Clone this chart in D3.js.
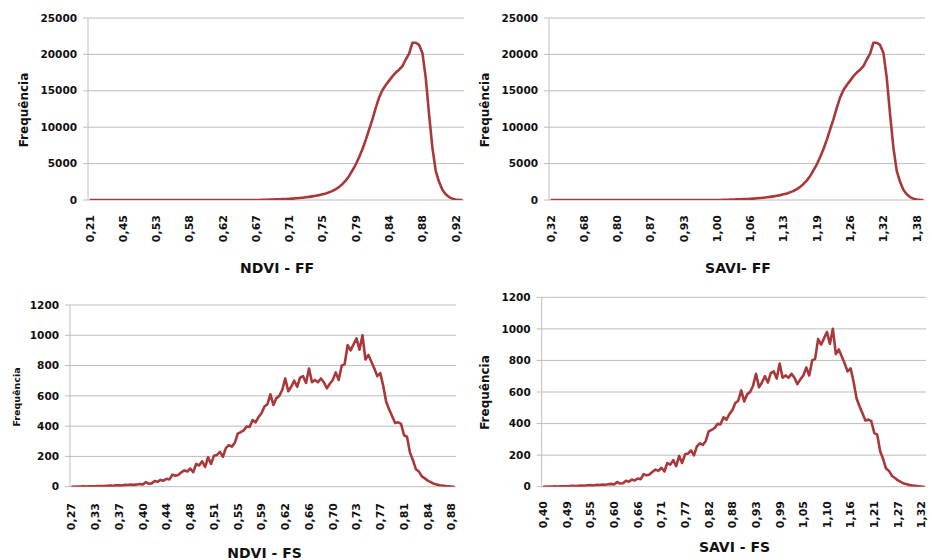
<!DOCTYPE html>
<html>
<head>
<meta charset="utf-8">
<script src="https://cdn.jsdelivr.net/npm/d3@7"></script>
<style>
  body { margin: 0; background: #fff; }
  svg { display: block; }
  text { font-family: "DejaVu Sans", sans-serif; font-weight: bold; fill: #111; }
</style>
</head>
<body>
<div id="chart"></div>
<script>
// frequency per class
var ndviFF = [0,0,0,0,0,0,0,0,0,0, 0,0,0,0,0,0,0,0,0,0, 0,0,0,0,0,0,0,0,0,0,
  0,0,0,0,0,0,0,0,0,0, 0,0,0,0,0,0,0,0,0,0, 0,0,
  30,40,50,60,80,100,120,140,160,190, 230,270,320,370,430,500,580,670,780,900,
  1050,1250,1500,1800,2200,2700,3300,4100,4900,5900, 7000,8300,9700,11100,12700,14100,15100,15800,16400,17000,
  17500,17900,18400,19300,20100,21600,21600,21300,20200,16800, 11800,7200,4000,2500,1400,800,400,180,70,20, 0];
var saviFF = [0,0,0,0,0,0,0,0,0,0, 0,0,0,0,0,0,0,0,0,0, 0,0,0,0,0,0,0,0,0,0,
  0,0,0,0,0,0,0,0,0,0, 0,0,0,0,0,0,0,0,0,0, 0,0,
  30,40,50,60,80,100,120,140,160,190, 230,270,320,370,430,500,580,670,780,900,
  1050,1250,1500,1800,2200,2700,3300,4100,4900,5900, 7000,8300,9700,11100,12700,14100,15100,15800,16400,17000,
  17500,17900,18400,19300,20100,21600,21600,21300,20200,16800, 11800,7200,4000,2500,1400,800,400,180,70,20, 0];
var ndviFS = [1,0,1,1,2,1,2,3,3,4, 5,4,6,7,6,9,10,8,12,11, 14,12,15,18,14,30,20,22,38,32,
  45,40,52,48,80,72,78,95,108,100, 120,96,150,140,168,130,195,150,205,210,
  230,198,255,275,265,290,350,360,372,398, 395,440,425,460,485,530,545,610,540,585,
  600,640,715,630,660,700,660,720,730,685, 780,690,705,690,715,690,650,680,705,755,
  705,800,810,935,900,940,980,905,1000,840, 870,825,780,730,750,665,560,510,465,420,
  425,415,340,330,225,175,115,100,68,55, 40,30,20,15,10,8,5,3,1,0];
var saviFS = [1,0,1,1,2,1,2,3,3,4, 5,4,6,7,6,9,10,8,12,11, 14,12,15,18,14,30,20,22,38,32,
  45,40,52,48,80,72,78,95,108,100, 120,96,150,140,168,130,195,150,205,210,
  230,198,255,275,265,290,350,360,372,398, 395,440,425,460,485,530,545,610,540,585,
  600,640,715,630,660,700,660,720,730,685, 780,690,705,690,715,690,650,680,705,755,
  705,800,810,935,900,940,980,905,1000,840, 870,825,780,730,750,665,560,510,465,420,
  425,415,340,330,225,175,115,100,68,55, 40,30,20,15,10,8,5,3,1,0];

// category labels (shown every n classes)
var ndviFFLabels = ["0,21","0,45","0,53","0,58","0,62","0,67","0,71","0,75","0,79","0,84","0,88","0,92"];
var saviFFLabels = ["0,32","0,68","0,80","0,87","0,93","1,00","1,06","1,13","1,19","1,26","1,32","1,38"];
var ndviFSLabels = ["0,27","0,33","0,37","0,40","0,44","0,48","0,51","0,55","0,59","0,62","0,66","0,70","0,73","0,77","0,81","0,84","0,88"];
var saviFSLabels = ["0,40","0,49","0,55","0,60","0,66","0,71","0,77","0,82","0,88","0,93","0,99","1,05","1,10","1,16","1,21","1,27","1,32"];

var ffTicks = [0,5000,10000,15000,20000,25000];
var fsTicks = [0,200,400,600,800,1000,1200];

var lineColor = "#a8383a";
var gridColor = "#bdbdbd";

var svg = d3.select("#chart").append("svg")
    .attr("width", 932)
    .attr("height", 560);

// layout of the four panels
var panels = [
  {id: "a", data: ndviFF, labels: ndviFFLabels, every: 10, yTicks: ffTicks, title: "NDVI - FF",
   x0: 88, x1: 464, top: 18, bottom: 200, yt: {x: 28, y: 110, size: 12}, xt: {x: 277, y: 273}, labelY: 215},
  {id: "b", data: saviFF, labels: saviFFLabels, every: 10, yTicks: ffTicks, title: "SAVI- FF",
   x0: 549, x1: 925, top: 18, bottom: 200, yt: {x: 489, y: 110, size: 12}, xt: {x: 738, y: 273}, labelY: 215},
  {id: "c", data: ndviFS, labels: ndviFSLabels, every: 8, yTicks: fsTicks, title: "NDVI - FS",
   x0: 70, x1: 456, top: 305, bottom: 486.7, yt: {x: 20, y: 397, size: 9.5}, xt: {x: 264.5, y: 558}, labelY: 503},
  {id: "d", data: saviFS, labels: saviFSLabels, every: 8, yTicks: fsTicks, title: "SAVI - FS",
   x0: 541.7, x1: 926, top: 297.3, bottom: 486.7, yt: {x: 489, y: 392.5, size: 12}, xt: {x: 734.5, y: 551.7}, labelY: 501}
];

panels.forEach(function(p) {
  var x = d3.scaleBand().domain(d3.range(p.data.length)).range([p.x0, p.x1]);
  var y = d3.scaleLinear().domain([0, d3.max(p.yTicks)]).range([p.bottom, p.top]);
  var cx = function(i) { return x(i) + x.bandwidth() / 2; };

  var g = svg.append("g");

  // gridlines with short outside ticks
  g.selectAll(".grid")
    .data(p.yTicks)
    .enter().append("line")
    .attr("x1", p.x0 - 5).attr("x2", p.x1)
    .attr("y1", function(d) { return y(d); })
    .attr("y2", function(d) { return y(d); })
    .attr("stroke", gridColor)
    .attr("stroke-width", 1);

  // y axis line
  g.append("line")
    .attr("x1", p.x0).attr("x2", p.x0)
    .attr("y1", p.top).attr("y2", p.bottom)
    .attr("stroke", gridColor);

  // y labels
  g.selectAll(".ylab")
    .data(p.yTicks)
    .enter().append("text")
    .attr("x", p.x0 - 11)
    .attr("y", function(d) { return y(d); })
    .attr("dy", "0.35em")
    .attr("text-anchor", "end")
    .style("font-size", "10.5px")
    .text(function(d) { return d; });

  // x labels, rotated
  var idx = p.labels.map(function(l, i) { return i * p.every; });
  g.selectAll(".xlab")
    .data(idx)
    .enter().append("text")
    .attr("transform", function(d) { return "translate(" + cx(d) + "," + p.labelY + ") rotate(-90)"; })
    .attr("dy", "0.35em")
    .attr("text-anchor", "end")
    .style("font-size", "11px")
    .text(function(d, i) { return p.labels[i]; });

  // clip to plot area so values at zero sit on the axis
  svg.append("clipPath").attr("id", "clip-" + p.id)
    .append("rect")
    .attr("x", p.x0).attr("y", p.top - 5)
    .attr("width", p.x1 - p.x0).attr("height", p.bottom - p.top + 5);

  var line = d3.line()
    .x(function(d, i) { return cx(i); })
    .y(function(d) { return y(d); });

  g.append("path")
    .datum(p.data)
    .attr("clip-path", "url(#clip-" + p.id + ")")
    .attr("fill", "none")
    .attr("stroke", lineColor)
    .attr("stroke-width", 2.6)
    .attr("stroke-linejoin", "round")
    .attr("d", line);

  // axis titles
  g.append("text")
    .attr("transform", "translate(" + p.yt.x + "," + p.yt.y + ") rotate(-90)")
    .attr("text-anchor", "middle")
    .style("font-size", p.yt.size + "px")
    .text("Frequência");

  g.append("text")
    .attr("x", p.xt.x)
    .attr("y", p.xt.y)
    .attr("text-anchor", "middle")
    .style("font-size", "14px")
    .text(p.title);
});
</script>
</body>
</html>
